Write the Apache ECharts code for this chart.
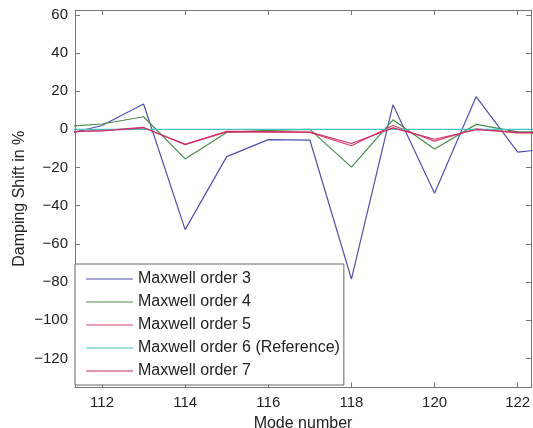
<!DOCTYPE html>
<html>
<head>
<meta charset="utf-8">
<script src="https://cdn.jsdelivr.net/npm/echarts@6/dist/echarts.min.js"></script>
<style>
html,body{margin:0;padding:0;background:#fff;}
#chart{width:533px;height:428px;}
</style>
</head>
<body>
<div id="chart"></div>
<script>
// ---- data ----
const modes = [111, 112, 113, 114, 115, 116, 117, 118, 119, 120, 121, 122, 123];
const order3 = [-3.4, 2.0, 13.3, -52.5, -14.3, -5.4, -5.6, -78.4, 12.9, -33.5, 17.1, -11.9, -9.7];
const order4 = [1.3, 2.8, 6.6, -15.5, -1.6, -0.5, 0.0, -19.8, 5.0, -10.3, 2.6, -1.3, -1.5];
const order5 = [-1.5, -0.6, 1.0, -8.0, -1.3, -1.5, -1.6, -8.6, 2.0, -6.2, 0.3, -1.8, -2.0];
const order6 = [0, 0, 0, 0, 0, 0, 0, 0, 0, 0, 0, 0, 0];
const order7 = [-1.3, -0.8, 0.8, -7.8, -1.0, -1.2, -1.4, -7.4, 0.8, -5.2, -0.2, -1.6, -1.8];
const seriesNames = ['Maxwell order 3', 'Maxwell order 4', 'Maxwell order 5', 'Maxwell order 6 (Reference)', 'Maxwell order 7'];
const xTicks = [112, 114, 116, 118, 120, 122];
const yTicks = [-120, -100, -80, -60, -40, -20, 0, 20, 40, 60];
const xLabel = 'Mode number';
const yLabel = 'Damping Shift in %';

const colors = ['#5050b0', '#4a8f4a', '#dc4466', '#48c0c0', '#cc2c6a'];
const allData = [order3, order4, order5, order6, order7];

const FONT = 'Liberation Sans, Arial, sans-serif';
const axisColor = '#777';
const textColor = '#222';

function fmt(v) { return v < 0 ? '\u2212' + Math.abs(v) : String(v); }

const xMin = 111.35, xMax = 122.32, yMin = -135.2, yMax = 62.5;

const chart = echarts.init(document.getElementById('chart'), null, {renderer: 'canvas'});
const option = {
  animation: false,
  backgroundColor: '#fff',
  grid: {left: 75, right: 2, top: 10, bottom: 40.5, containLabel: false, outerBoundsMode: 'none'},
  xAxis: [{
    type: 'value', min: xMin, max: xMax, position: 'bottom',
    name: xLabel, nameLocation: 'middle', nameGap: 24,
    nameTextStyle: {fontFamily: FONT, fontSize: 16, color: textColor},
    axisLine: {show: true, onZero: false, lineStyle: {color: axisColor, width: 1}},
    axisTick: {show: true, inside: true, length: 5, customValues: xTicks, lineStyle: {color: axisColor}},
    axisLabel: {show: true, customValues: xTicks, margin: 8, fontFamily: FONT, fontSize: 15, color: textColor, formatter: fmt},
    splitLine: {show: false}
  }, {
    type: 'value', min: xMin, max: xMax, position: 'top',
    axisLine: {show: true, onZero: false, lineStyle: {color: axisColor, width: 1}},
    axisTick: {show: true, inside: true, length: 5, customValues: xTicks, lineStyle: {color: axisColor}},
    axisLabel: {show: false},
    splitLine: {show: false}
  }],
  yAxis: [{
    type: 'value', min: yMin, max: yMax, position: 'left',
    name: yLabel, nameLocation: 'middle', nameGap: 47, nameRotate: 90, nameMoveOverlap: false,
    nameTextStyle: {fontFamily: FONT, fontSize: 16, color: textColor},
    axisLine: {show: true, onZero: false, lineStyle: {color: axisColor, width: 1}},
    axisTick: {show: true, inside: true, length: 5, customValues: yTicks, lineStyle: {color: axisColor}},
    axisLabel: {show: true, customValues: yTicks, margin: 7, fontFamily: FONT, fontSize: 15, color: textColor, formatter: fmt},
    splitLine: {show: false}
  }, {
    type: 'value', min: yMin, max: yMax, position: 'right',
    axisLine: {show: true, onZero: false, lineStyle: {color: axisColor, width: 1}},
    axisTick: {show: true, inside: true, length: 5, customValues: yTicks, lineStyle: {color: axisColor}},
    axisLabel: {show: false},
    splitLine: {show: false}
  }],
  legend: {
    show: true,
    orient: 'vertical',
    left: 75, top: 264,
    icon: 'rect',
    itemWidth: 47, itemHeight: 1.2, itemGap: 7,
    padding: [7, 4, 6, 11],
    borderColor: '#666', borderWidth: 1, borderRadius: 0,
    backgroundColor: '#fff',
    textStyle: {fontFamily: FONT, fontSize: 16, color: textColor, lineHeight: 16},
    data: seriesNames,
    z: 10
  },
  series: seriesNames.map((n, i) => ({
    name: n,
    type: 'line',
    xAxisIndex: 0, yAxisIndex: 0,
    data: modes.map((m, k) => [m, allData[i][k]]),
    symbol: 'none',
    clip: true,
    lineStyle: {color: colors[i], width: 1.2},
    itemStyle: {color: colors[i]},
    z: 2 + i
  }))
};
chart.setOption(option);
</script>
</body>
</html>
